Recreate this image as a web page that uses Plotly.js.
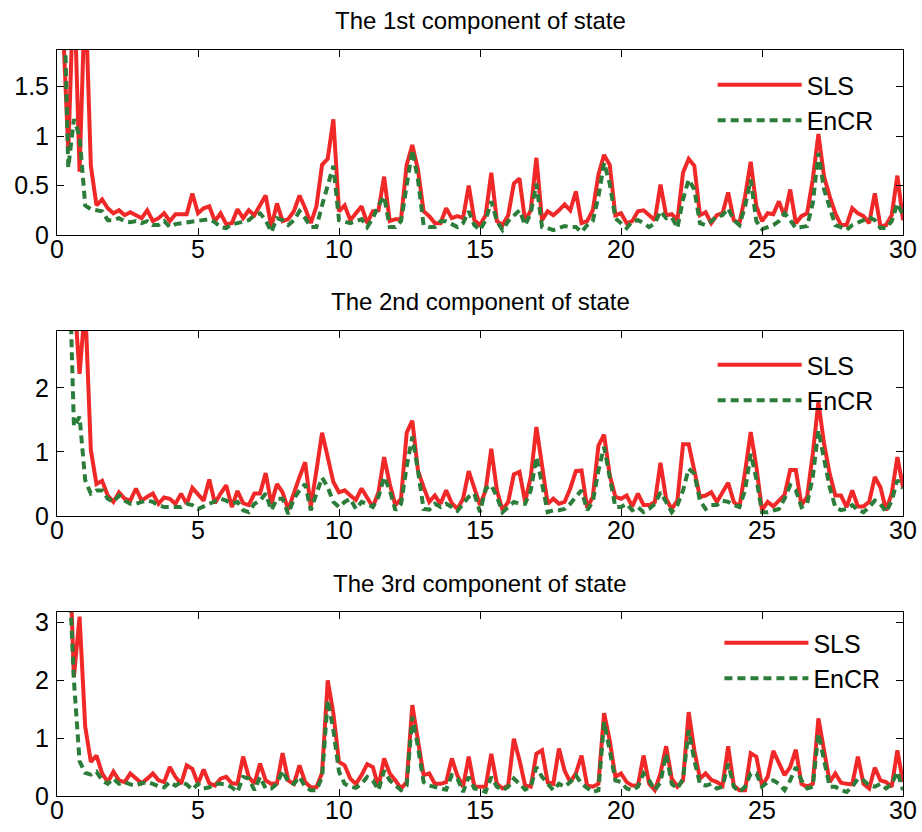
<!DOCTYPE html>
<html>
<head>
<meta charset="utf-8">
<script src="https://cdn.plot.ly/plotly-3.0.1.min.js"></script>
<style>html,body{margin:0;padding:0;background:#fff;}#chart{width:922px;height:832px;}</style>
</head>
<body>
<div id="chart"></div>
<script>
const time = [
 0.2,0.4,0.6,0.8,1.0,1.2,1.4,1.6,1.8,2.0,
 2.2,2.4,2.6,2.8,3.0,3.2,3.4,3.6,3.8,4.0,
 4.2,4.4,4.6,4.8,5.0,5.2,5.4,5.6,5.8,6.0,
 6.2,6.4,6.6,6.8,7.0,7.2,7.4,7.6,7.8,8.0,
 8.2,8.4,8.6,8.8,9.0,9.2,9.4,9.6,9.8,10.0,
 10.2,10.4,10.6,10.8,11.0,11.2,11.4,11.6,11.8,12.0,
 12.2,12.4,12.6,12.8,13.0,13.2,13.4,13.6,13.8,14.0,
 14.2,14.4,14.6,14.8,15.0,15.2,15.4,15.6,15.8,16.0,
 16.2,16.4,16.6,16.8,17.0,17.2,17.4,17.6,17.8,18.0,
 18.2,18.4,18.6,18.8,19.0,19.2,19.4,19.6,19.8,20.0,
 20.2,20.4,20.6,20.8,21.0,21.2,21.4,21.6,21.8,22.0,
 22.2,22.4,22.6,22.8,23.0,23.2,23.4,23.6,23.8,24.0,
 24.2,24.4,24.6,24.8,25.0,25.2,25.4,25.6,25.8,26.0,
 26.2,26.4,26.6,26.8,27.0,27.2,27.4,27.6,27.8,28.0,
 28.2,28.4,28.6,28.8,29.0,29.2,29.4,29.6,29.8,30.0
];

// 1st component
const sls1 = [
 2.2,0.85,2.6,0.64,2.5,0.70,0.30,0.36,0.27,0.22,
 0.25,0.20,0.23,0.20,0.17,0.25,0.14,0.17,0.22,0.14,
 0.21,0.21,0.21,0.42,0.22,0.27,0.29,0.14,0.22,0.11,
 0.12,0.26,0.17,0.25,0.20,0.30,0.40,0.08,0.32,0.14,
 0.16,0.24,0.40,0.27,0.12,0.29,0.71,0.77,1.17,0.24,
 0.30,0.15,0.22,0.29,0.12,0.24,0.25,0.59,0.14,0.16,
 0.16,0.71,0.91,0.66,0.24,0.19,0.12,0.12,0.27,0.17,
 0.19,0.17,0.50,0.15,0.10,0.20,0.63,0.14,0.10,0.20,
 0.52,0.57,0.14,0.25,0.78,0.15,0.24,0.20,0.25,0.31,
 0.25,0.44,0.12,0.14,0.25,0.61,0.81,0.71,0.20,0.22,
 0.12,0.14,0.24,0.25,0.20,0.15,0.51,0.20,0.21,0.15,
 0.63,0.77,0.70,0.20,0.23,0.12,0.20,0.22,0.43,0.15,
 0.12,0.39,0.74,0.29,0.14,0.22,0.21,0.34,0.19,0.46,
 0.12,0.19,0.22,0.56,1.02,0.59,0.39,0.22,0.10,0.10,
 0.27,0.22,0.19,0.12,0.42,0.09,0.10,0.20,0.60,0.15
];
const encr1 = [
 3.0,0.68,1.17,1.00,0.30,0.26,0.25,0.24,0.15,0.15,
 0.17,0.14,0.13,0.14,0.12,0.14,0.10,0.10,0.14,0.08,
 0.11,0.12,0.12,0.13,0.14,0.15,0.16,0.13,0.08,0.07,
 0.11,0.12,0.14,0.15,0.20,0.22,0.15,0.03,0.17,0.15,
 0.10,0.15,0.24,0.17,0.08,0.08,0.30,0.50,0.70,0.15,
 0.14,0.12,0.14,0.16,0.08,0.17,0.30,0.39,0.08,0.08,
 0.14,0.49,0.86,0.56,0.10,0.08,0.08,0.14,0.14,0.11,
 0.08,0.12,0.24,0.10,0.05,0.15,0.34,0.14,0.05,0.14,
 0.20,0.25,0.10,0.22,0.52,0.08,0.07,0.05,0.07,0.09,
 0.08,0.08,0.03,0.10,0.14,0.39,0.73,0.52,0.17,0.12,
 0.07,0.14,0.15,0.12,0.08,0.12,0.24,0.17,0.18,0.07,
 0.36,0.56,0.46,0.12,0.10,0.14,0.19,0.20,0.27,0.15,
 0.10,0.29,0.56,0.14,0.06,0.08,0.10,0.14,0.22,0.15,
 0.07,0.08,0.09,0.32,0.83,0.46,0.27,0.10,0.08,0.05,
 0.10,0.12,0.15,0.18,0.15,0.07,0.07,0.14,0.32,0.20
];

// 2nd component
const sls2 = [
 4.5,4.0,3.5,2.22,3.3,1.03,0.50,0.55,0.32,0.22,
 0.37,0.27,0.24,0.43,0.24,0.30,0.35,0.19,0.29,0.27,
 0.19,0.35,0.19,0.44,0.35,0.24,0.57,0.20,0.35,0.48,
 0.14,0.39,0.20,0.17,0.35,0.35,0.67,0.19,0.50,0.37,
 0.10,0.37,0.61,0.84,0.14,0.71,1.30,0.92,0.53,0.37,
 0.40,0.32,0.25,0.43,0.27,0.14,0.37,0.92,0.50,0.17,
 0.27,1.30,1.49,0.71,0.45,0.22,0.32,0.19,0.40,0.20,
 0.11,0.27,0.70,0.43,0.17,0.40,1.05,0.40,0.09,0.22,
 0.65,0.69,0.22,0.61,1.39,0.79,0.19,0.27,0.19,0.22,
 0.43,0.70,0.71,0.13,0.30,1.10,1.27,0.64,0.30,0.27,
 0.32,0.15,0.35,0.17,0.17,0.22,0.83,0.27,0.11,0.24,
 1.12,1.12,0.69,0.30,0.32,0.37,0.22,0.36,0.52,0.22,
 0.14,0.69,1.31,0.77,0.09,0.22,0.15,0.24,0.33,0.72,
 0.72,0.17,0.30,0.97,1.78,1.13,0.66,0.32,0.32,0.14,
 0.40,0.15,0.15,0.22,0.61,0.45,0.09,0.35,0.92,0.45
];
const encr2 = [
 4.5,4.5,1.40,1.55,0.56,0.35,0.40,0.40,0.27,0.22,
 0.32,0.24,0.19,0.19,0.22,0.24,0.22,0.17,0.14,0.14,
 0.14,0.14,0.19,0.17,0.11,0.15,0.19,0.22,0.27,0.24,
 0.19,0.22,0.09,0.06,0.19,0.24,0.35,0.09,0.27,0.27,
 0.03,0.27,0.40,0.50,0.09,0.35,0.60,0.45,0.22,0.14,
 0.22,0.27,0.11,0.22,0.19,0.14,0.30,0.61,0.40,0.09,
 0.19,0.77,1.24,0.71,0.11,0.10,0.19,0.14,0.19,0.14,
 0.08,0.19,0.30,0.35,0.06,0.43,0.48,0.30,0.06,0.14,
 0.22,0.19,0.19,0.40,0.92,0.50,0.06,0.09,0.09,0.11,
 0.19,0.30,0.40,0.09,0.22,0.71,1.08,0.61,0.14,0.14,
 0.19,0.09,0.14,0.06,0.11,0.19,0.37,0.22,0.06,0.17,
 0.40,0.74,0.66,0.24,0.11,0.17,0.17,0.24,0.22,0.17,
 0.14,0.40,0.97,0.58,0.06,0.06,0.09,0.11,0.27,0.48,
 0.40,0.14,0.19,0.61,1.34,0.92,0.45,0.14,0.09,0.11,
 0.17,0.09,0.06,0.14,0.24,0.19,0.06,0.24,0.56,0.43
];

// 3rd component
const sls3 = [
 5.5,4.9,2.06,3.10,1.20,0.59,0.70,0.39,0.24,0.42,
 0.27,0.24,0.39,0.30,0.22,0.30,0.39,0.27,0.24,0.50,
 0.33,0.21,0.53,0.47,0.21,0.46,0.22,0.18,0.30,0.33,
 0.22,0.21,0.68,0.33,0.21,0.56,0.27,0.21,0.22,0.74,
 0.27,0.21,0.53,0.24,0.15,0.15,0.40,2.00,1.43,0.59,
 0.53,0.30,0.21,0.36,0.55,0.50,0.16,0.65,0.39,0.27,
 0.13,0.24,1.57,0.96,0.36,0.39,0.21,0.21,0.24,0.65,
 0.35,0.16,0.68,0.16,0.16,0.16,0.73,0.21,0.13,0.18,
 0.99,0.62,0.18,0.16,0.73,0.79,0.24,0.21,0.82,0.44,
 0.24,0.39,0.70,0.18,0.16,0.21,1.43,0.96,0.33,0.39,
 0.24,0.18,0.18,0.70,0.21,0.10,0.39,0.86,0.30,0.16,
 0.27,1.45,0.79,0.30,0.39,0.28,0.24,0.18,0.86,0.18,
 0.10,0.10,0.74,0.68,0.18,0.33,0.78,0.56,0.36,0.50,
 0.80,0.21,0.16,0.21,1.34,0.79,0.24,0.39,0.23,0.21,
 0.20,0.68,0.21,0.13,0.49,0.27,0.24,0.16,0.79,0.24
];
const encr3 = [
 6.0,4.2,2.00,0.60,0.40,0.37,0.42,0.27,0.21,0.30,
 0.21,0.24,0.20,0.18,0.22,0.24,0.21,0.17,0.15,0.24,
 0.18,0.24,0.20,0.11,0.21,0.13,0.15,0.21,0.21,0.20,
 0.15,0.07,0.33,0.30,0.10,0.33,0.13,0.13,0.21,0.44,
 0.24,0.21,0.33,0.16,0.10,0.10,0.33,1.66,1.14,0.42,
 0.21,0.16,0.14,0.21,0.33,0.27,0.10,0.44,0.27,0.18,
 0.10,0.18,1.37,0.85,0.24,0.18,0.16,0.13,0.11,0.36,
 0.30,0.07,0.33,0.13,0.11,0.07,0.33,0.16,0.10,0.16,
 0.30,0.21,0.11,0.16,0.50,0.33,0.21,0.10,0.21,0.16,
 0.24,0.36,0.21,0.13,0.07,0.10,1.28,0.79,0.27,0.24,
 0.13,0.10,0.16,0.39,0.27,0.10,0.24,0.73,0.21,0.13,
 0.30,1.14,0.62,0.21,0.18,0.21,0.13,0.16,0.56,0.16,
 0.07,0.16,0.39,0.39,0.16,0.24,0.27,0.21,0.10,0.27,
 0.50,0.27,0.13,0.16,1.08,0.62,0.16,0.16,0.10,0.07,
 0.16,0.30,0.27,0.18,0.16,0.21,0.13,0.21,0.42,0.10
];

const seriesNames = ['SLS', 'EnCR'];
const panelTitles = ['The 1st component of state', 'The 2nd component of state', 'The 3rd component of state'];
const xTicks = [0, 5, 10, 15, 20, 25, 30];

const RED = 'rgb(240,40,40)';
const GREEN = 'rgb(44,124,58)';
const FONT = 'Liberation Sans, Arial, Helvetica, sans-serif';

const panels = [
  {sls: sls1, encr: encr1, ax: '', legend: 'legend'},
  {sls: sls2, encr: encr2, ax: '2', legend: 'legend2'},
  {sls: sls3, encr: encr3, ax: '3', legend: 'legend3'}
];

const traces = [];
panels.forEach(p => {
  traces.push({
    x: time, y: p.sls, type: 'scatter', mode: 'lines', name: seriesNames[0],
    xaxis: 'x' + p.ax, yaxis: 'y' + p.ax, legend: p.legend,
    line: {color: RED, width: 4}
  });
  traces.push({
    x: time, y: p.encr, type: 'scatter', mode: 'lines', name: seriesNames[1],
    xaxis: 'x' + p.ax, yaxis: 'y' + p.ax, legend: p.legend,
    line: {color: GREEN, width: 4, dash: '8px,5px'}
  });
});

const H = 832;
function dom(top, bottom) { return [1 - bottom / H, 1 - top / H]; }

function xAxis(anchor) {
  return {
    anchor: anchor, domain: [0, 1], range: [0, 30], tickvals: xTicks,
    ticks: 'inside', ticklen: 7, tickwidth: 1, tickcolor: '#000',
    showline: true, linecolor: '#000', linewidth: 1, mirror: 'allticks',
    showgrid: false, zeroline: false, ticklabelstandoff: -8,
    tickfont: {family: FONT, size: 25, color: '#000'}
  };
}
function yAxis(anchor, domain, range, dtick) {
  return {
    anchor: anchor, domain: domain, range: range, dtick: dtick, tick0: 0,
    ticks: 'inside', ticklen: 7, tickwidth: 1, tickcolor: '#000',
    showline: true, linecolor: '#000', linewidth: 1, mirror: 'allticks',
    showgrid: false, zeroline: false, ticklabelstandoff: 2,
    tickfont: {family: FONT, size: 25, color: '#000'}
  };
}

const legendBase = {
  xanchor: 'left', yanchor: 'top', bgcolor: 'rgba(0,0,0,0)', borderwidth: 0,
  font: {family: FONT, size: 25, color: '#000'}, itemwidth: 84, tracegroupgap: 0
};

const layout = {
  width: 922, height: 832,
  margin: {l: 57, r: 19, t: 0, b: 0},
  paper_bgcolor: '#fff', plot_bgcolor: '#fff',
  showlegend: true,
  xaxis: xAxis('y'),
  yaxis: yAxis('x', dom(50, 235), [0, 1.87], 0.5),
  xaxis2: xAxis('y2'),
  yaxis2: yAxis('x2', dom(331, 516), [0, 2.89], 1),
  xaxis3: xAxis('y3'),
  yaxis3: yAxis('x3', dom(612, 796), [0, 3.18], 1),
  legend: Object.assign({}, legendBase, {x: 0.775, y: 1 - 62 / H}),
  legend2: Object.assign({}, legendBase, {x: 0.775, y: 1 - 342 / H}),
  legend3: Object.assign({}, legendBase, {x: 0.783, y: 1 - 620 / H}),
  annotations: [
    {text: panelTitles[0], xref: 'paper', yref: 'paper', x: 0.5, y: 1 - 21 / H, xanchor: 'center', yanchor: 'middle', showarrow: false, font: {family: FONT, size: 24, color: '#000'}},
    {text: panelTitles[1], xref: 'paper', yref: 'paper', x: 0.5, y: 1 - 302 / H, xanchor: 'center', yanchor: 'middle', showarrow: false, font: {family: FONT, size: 24, color: '#000'}},
    {text: panelTitles[2], xref: 'paper', yref: 'paper', x: 0.5, y: 1 - 583 / H, xanchor: 'center', yanchor: 'middle', showarrow: false, font: {family: FONT, size: 24, color: '#000'}}
  ]
};

Plotly.newPlot('chart', traces, layout, {staticPlot: true, displayModeBar: false});
</script>
</body>
</html>
